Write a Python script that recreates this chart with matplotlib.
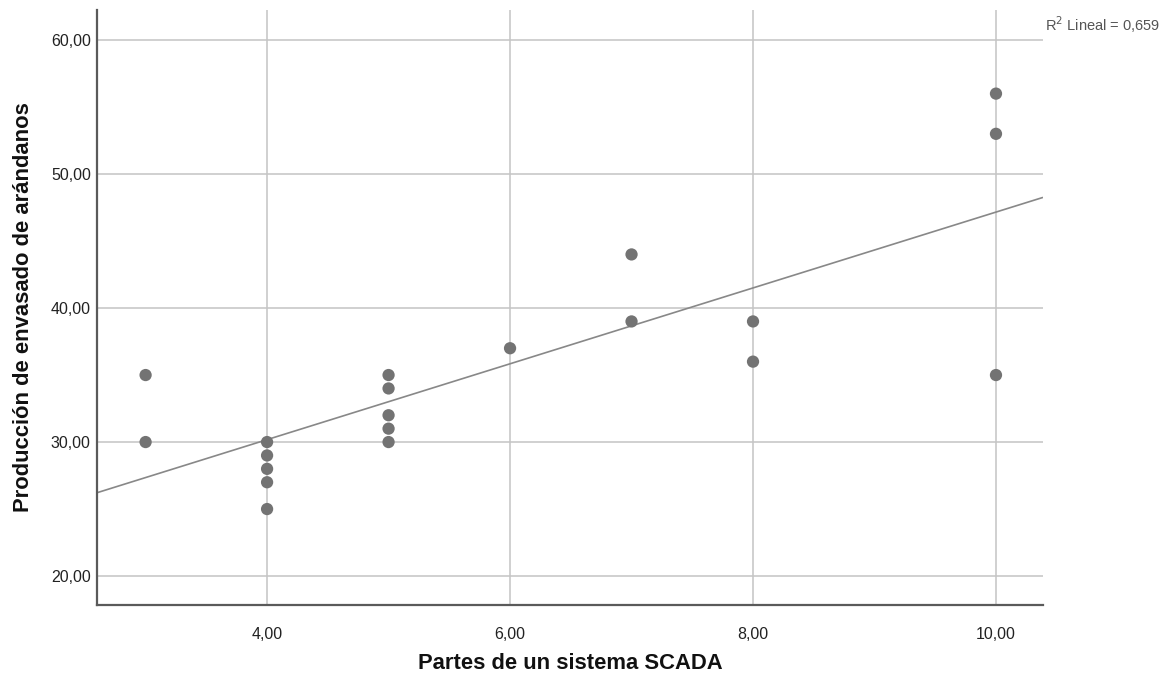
import numpy as np
import matplotlib
matplotlib.use("Agg")
import matplotlib.pyplot as plt
from matplotlib.ticker import FixedLocator, FuncFormatter

plt.rcParams['font.family'] = ['Liberation Sans', 'DejaVu Sans']

# Observations: SCADA parts vs. blueberry packing output
partes_scada = [3, 3, 4, 4, 4, 4, 4, 5, 5, 5, 5, 5, 6, 7, 7, 8, 8, 10, 10, 10]
produccion = [35, 30, 30, 29, 28, 27, 25, 35, 34, 32, 31, 30, 37, 44, 39, 39, 36, 56, 53, 35]

# Linear fit line and its reported R²
fit_intercept = 18.86
fit_slope = 2.83
r2_texto = "0,659"

x_ticks = [4, 6, 8, 10]
y_ticks = [20, 30, 40, 50, 60]
x_lim = (2.60, 10.387)
y_lim = (17.84, 62.24)

fig = plt.figure(figsize=(11.69, 6.77), dpi=100)
ax = fig.add_axes([97 / 1169, 1 - 605 / 677, (1043 - 97) / 1169, (605 - 10) / 677])

ax.set_xlim(*x_lim)
ax.set_ylim(*y_lim)

ax.xaxis.set_major_locator(FixedLocator(x_ticks))
ax.yaxis.set_major_locator(FixedLocator(y_ticks))
fmt = FuncFormatter(lambda v, p: f"{v:.2f}".replace(".", ","))
ax.xaxis.set_major_formatter(fmt)
ax.yaxis.set_major_formatter(fmt)

ax.grid(True, color="#c4c4c4", linewidth=1.1, zorder=0)
ax.set_axisbelow(True)

for s in ("top", "right"):
    ax.spines[s].set_visible(False)
for s in ("left", "bottom"):
    ax.spines[s].set_color("#5a5a5a")
    ax.spines[s].set_linewidth(1.6)

ax.tick_params(axis="x", length=0, pad=16, labelsize=11.5, labelcolor="#222222")
ax.tick_params(axis="y", length=0, pad=4.5, labelsize=11.5, labelcolor="#222222")

xs = np.array(x_lim)
ax.plot(xs, fit_intercept + fit_slope * xs, color="#888888", linewidth=1.2, zorder=2,
        solid_capstyle="butt")

ax.scatter(partes_scada, produccion, s=78, color="#737373", edgecolors="none",
           zorder=3, clip_on=False)

ax.set_xlabel("Partes de un sistema SCADA", fontsize=15.8, fontweight="bold",
              color="#111111", labelpad=8)
ax.set_ylabel("Producción de envasado de arándanos", fontsize=15.8, fontweight="bold",
              color="#111111", labelpad=12)

fig.text(1045 / 1169, 1 - 31 / 677, f"R$^2$ Lineal = {r2_texto}", fontsize=10.5,
         color="#555555", ha="left", va="baseline")

fig.savefig("out.png", dpi=100, facecolor="white")
